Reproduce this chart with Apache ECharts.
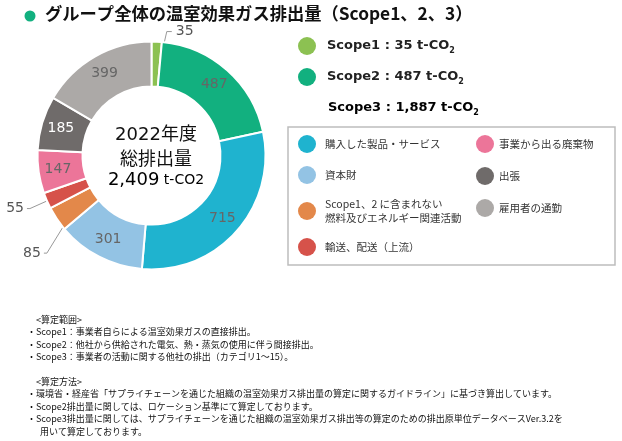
<!DOCTYPE html>
<html lang="ja">
<head>
<meta charset="utf-8">
<title>グループ全体の温室効果ガス排出量</title>
<script src="https://cdn.jsdelivr.net/npm/echarts@6/dist/echarts.min.js"></script>
<style>
    html, body { margin: 0; padding: 0; background: #fff; }
    #chart { width: 622px; height: 441px; }
</style>
</head>
<body>
<div id="chart"></div>
<script>
// 2022年度 排出量（t-CO2）
var categories = ['Scope1', 'Scope2', '購入した製品・サービス', '資本財',
    'Scope1、2 に含まれない\n燃料及びエネルギー関連活動', '輸送、配送（上流）',
    '事業から出る廃棄物', '出張', '雇用者の通勤'];
var values = [35, 487, 715, 301, 85, 55, 147, 185, 399];
var scopeNames = ['Scope1', 'Scope2', 'Scope3'];
var scopeTotals = [35, 487, 1887];
var totalValue = 2409;
var yearLabel = '2022年度';
var legendCol1 = ['購入した製品・サービス', '資本財', 'Scope1、2 に含まれない\n燃料及びエネルギー関連活動', '輸送、配送（上流）'];
var legendCol2 = ['事業から出る廃棄物', '出張', '雇用者の通勤'];
var notes = [
    '<算定範囲>',
    '・Scope1：事業者自らによる温室効果ガスの直接排出。',
    '・Scope2：他社から供給された電気、熱・蒸気の使用に伴う間接排出。',
    '・Scope3：事業者の活動に関する他社の排出（カテゴリ1～15）。',
    '',
    '<算定方法>',
    '・環境省・経産省「サプライチェーンを通じた組織の温室効果ガス排出量の算定に関するガイドライン」に基づき算出しています。',
    '・Scope2排出量に関しては、ロケーション基準にて算定しております。',
    '・Scope3排出量に関しては、サプライチェーンを通じた組織の温室効果ガス排出等の算定のための排出原単位データベースVer.3.2を',
    '用いて算定しております。'
];

var palette = ['#8cc152', '#12b07f', '#1fb3cf', '#93c3e4', '#e3884a', '#d6524a', '#ec7599', '#6f6b6a', '#aca9a7'];
var JP = '"Noto Sans CJK JP", sans-serif';
var NUM = '"DejaVu Sans", "Noto Sans CJK JP", sans-serif';
var pieCenter = [151.5, 155.5];

var chart = echarts.init(document.getElementById('chart'));

//小さい項目は外側にラベル（引き出し線の形）
var leaders = {
    0: { r: 72, dx: 12, dy: -52, h: 5 },
    4: { r: 91, dx: -29, dy: 47, h: -3 },
    5: { r: 91, dx: -38, dy: 17, h: -3 }
};
var pieData = categories.map(function (name, i) {
    var item = { name: name, value: values[i], itemStyle: { color: palette[i] } };
    if (leaders[i]) {
        item.label = { position: 'outside', color: '#555' };
        item.labelLine = { show: true, length: 10, length2: 8 };
    }
    if (name === '出張') {
        item.label = { color: '#fff' };
    }
    return item;
});

function fmtNum(v) {
    return v.toString().replace(/\B(?=(\d{3})+(?!\d))/g, ',');
}

var scopeRich = {
    n: { fontFamily: NUM, fontSize: 13, fontWeight: 'bold', color: '#222', lineHeight: 18 },
    s: { fontFamily: NUM, fontSize: 8, fontWeight: 'bold', color: '#222', lineHeight: 18, verticalAlign: 'bottom', padding: [6, 0, 0, 0] }
};
function scopeText(i) {
    return '{n|' + scopeNames[i] + ' : ' + fmtNum(scopeTotals[i]) + ' t-CO}{s|2}';
}

// 注記：見出しと続き行は少し右へ
var noteGraphics = notes.map(function (t, k) {
    var indent = t.charAt(0) === '<' ? 9 : (t.charAt(0) === '・' ? 0 : 13);
    return {
        type: 'text', left: 27 + indent, top: 315 + k * 12.4,
        style: { text: t, font: '9px ' + JP, fill: '#111' }
    };
});

var option = {
    backgroundColor: '#fff',
    animation: false,
    title: {
        text: 'グループ全体の温室効果ガス排出量（Scope1、2、3）',
        left: 45, top: 5, padding: 0,
        textStyle: { fontFamily: JP, fontSize: 17.3, fontWeight: 'bold', color: '#111' }
    },
    legend: [
        {
            data: ['Scope1', 'Scope2'],
            orient: 'vertical', left: 298, top: 37, padding: 0,
            itemGap: 13, itemWidth: 18, itemHeight: 18, icon: 'circle',
            selectedMode: false,
            itemStyle: { borderWidth: 0 },
            formatter: function (name) { return scopeText(scopeNames.indexOf(name)); },
            textStyle: { padding: [0, 0, 0, 6], rich: scopeRich }
        },
        {
            data: legendCol1,
            orient: 'vertical', left: 298, top: 135, padding: 0,
            itemGap: 13, itemWidth: 18, itemHeight: 18, icon: 'circle',
            selectedMode: false,
            itemStyle: { borderWidth: 0 },
            textStyle: { fontFamily: JP, fontSize: 10.5, lineHeight: 14, color: '#333', padding: [0, 0, 0, 4] }
        },
        {
            data: legendCol2,
            orient: 'vertical', left: 476, top: 135, padding: 0,
            itemGap: 14, itemWidth: 18, itemHeight: 18, icon: 'circle',
            selectedMode: false,
            itemStyle: { borderWidth: 0 },
            textStyle: { fontFamily: JP, fontSize: 10.5, lineHeight: 14, color: '#333' }
        }
    ],
    graphic: [
        { type: 'circle', shape: { cx: 30, cy: 16, r: 5.5 }, style: { fill: palette[1] } },
        {
            type: 'text', left: 328, top: 101,
            style: { text: scopeText(2), rich: scopeRich }
        },
        {
            type: 'rect', shape: { x: 288, y: 127, width: 327, height: 138 },
            style: { fill: 'none', stroke: '#bdbdbd', lineWidth: 1.5 }
        },
        {
            type: 'text', x: 156, y: 135,
            style: { text: yearLabel, font: '18px ' + NUM, fill: '#111', align: 'center', verticalAlign: 'middle' }
        },
        {
            type: 'text', x: 156, y: 158,
            style: { text: '総排出量', font: '18px ' + JP, fill: '#111', align: 'center', verticalAlign: 'middle' }
        },
        {
            type: 'text', x: 156, y: 180,
            style: {
                text: '{a|' + fmtNum(totalValue) + '}{b| t-CO2}', align: 'center', verticalAlign: 'middle',
                rich: {
                    a: { fontFamily: NUM, fontSize: 18, color: '#111' },
                    b: { fontFamily: NUM, fontSize: 14, color: '#111' }
                }
            }
        }
    ].concat(noteGraphics),
    series: [{
        type: 'pie',
        center: pieCenter,
        radius: [69, 114],
        startAngle: 90,
        clockwise: true,
        avoidLabelOverlap: false,
        emphasis: { disabled: true },
        itemStyle: { borderColor: '#fff', borderWidth: 2 },
        label: {
            show: true, position: 'inside', formatter: '{c}',
            fontFamily: NUM, fontSize: 14, color: '#666'
        },
        labelLine: { lineStyle: { color: '#999', width: 1 } },
        // 引き出し線は扇形の中ほどから出す
        labelLayout: function (p) {
            var ld = leaders[p.dataIndex];
            if (!ld || !p.labelLinePoints) return;
            var p0 = p.labelLinePoints[0];
            var vx = p0[0] - pieCenter[0], vy = p0[1] - pieCenter[1];
            var len = Math.sqrt(vx * vx + vy * vy);
            var s = [pieCenter[0] + vx / len * ld.r, pieCenter[1] + vy / len * ld.r];
            var b = [s[0] + ld.dx, s[1] + ld.dy];
            var e = [b[0] + ld.h, b[1]];
            return {
                x: e[0] + (ld.h < 0 ? -3 : 4),
                y: e[1],
                align: ld.h < 0 ? 'right' : 'left',
                verticalAlign: 'middle',
                labelLinePoints: [s, b, e]
            };
        },
        data: pieData
    }]
};
chart.setOption(option);
</script>
</body>
</html>
